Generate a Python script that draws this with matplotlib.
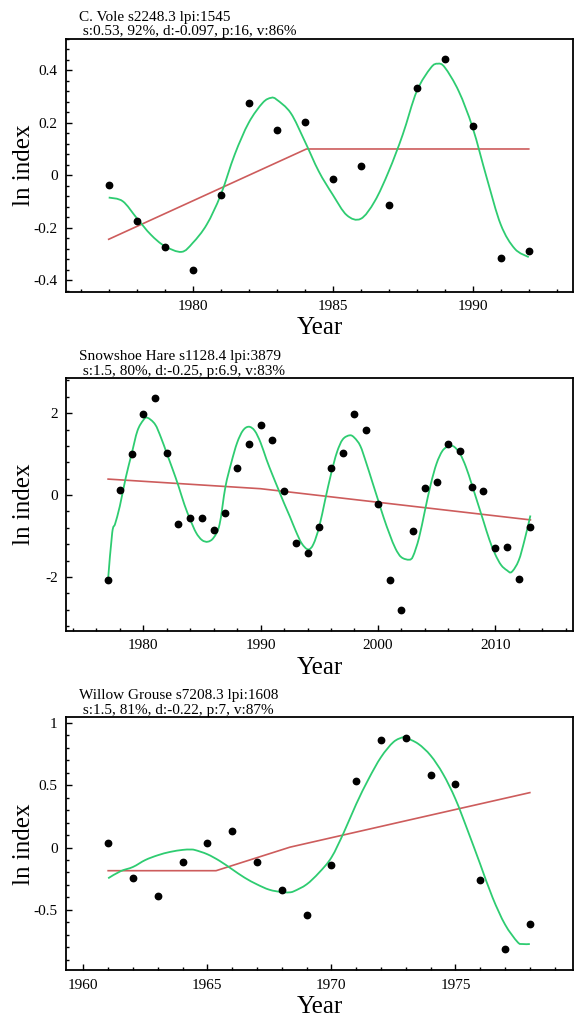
import numpy as np
import matplotlib.pyplot as plt
from matplotlib.ticker import MultipleLocator, FuncFormatter
from matplotlib.path import Path
from matplotlib.patches import PathPatch

plt.rcParams['font.family'] = ['Liberation Serif', 'DejaVu Serif']
plt.rcParams['axes.unicode_minus'] = False

VERDE = '#2ecc71'
ROJO = '#cd5c5c'

# ---- C. Vole ----
vole_years = list(range(1977, 1993))
vole_obs = [-0.037, -0.174, -0.274, -0.362, -0.075, 0.276, 0.174, 0.204,
            -0.013, 0.036, -0.113, 0.333, 0.442, 0.187, -0.317, -0.288]
vole_trend_x = [1977, 1984.06, 1992]
vole_trend_y = [-0.244, 0.100, 0.100]
vole_fit_x = [1977, 1977.5, 1978, 1978.5, 1979, 1979.6, 1980, 1980.5, 1981, 1981.5,
              1982, 1982.5, 1982.8, 1983, 1983.5, 1984, 1984.5, 1985, 1985.5,
              1986, 1986.5, 1987, 1987.5, 1988, 1988.5, 1988.75, 1989, 1989.5, 1990,
              1990.5, 1991, 1991.5, 1992]
vole_fit_y = [-0.085, -0.099, -0.163, -0.226, -0.270, -0.292, -0.258, -0.188, -0.075, 0.079,
              0.200, 0.276, 0.295, 0.288, 0.237, 0.130, 0.015, -0.074, -0.152,
              -0.166, -0.099, 0.015, 0.155, 0.320, 0.409, 0.425, 0.411, 0.320, 0.180,
              -0.010, -0.188, -0.280, -0.312]

# ---- Snowshoe Hare ----
hare_years = list(range(1977, 2014))
hare_obs = [-2.07, 0.13, 1.00, 1.98, 2.37, 1.02, -0.70, -0.56, -0.56, -0.86,
            -0.44, 0.67, 1.25, 1.72, 1.34, 0.11, -1.18, -1.42, -0.77, 0.65,
            1.04, 1.98, 1.58, -0.23, -2.07, -2.80, -0.87, 0.18, 0.33, 1.24,
            1.07, 0.19, 0.10, -1.29, -1.28, -2.04, -0.79]
hare_trend_x = [1977, 1990, 2013]
hare_trend_y = [0.39, 0.155, -0.607]
hare_fit_x = [1977, 1977.35, 1977.6, 1978, 1978.5, 1979, 1979.5, 1980, 1980.35, 1981,
              1981.5, 1982, 1982.5, 1983, 1983.5, 1984, 1984.5, 1985, 1985.5, 1986,
              1986.5, 1987, 1987.5, 1988, 1988.5, 1989, 1989.5, 1990, 1990.5, 1991,
              1991.5, 1992, 1992.5, 1993, 1993.5, 1994.05, 1994.5, 1995, 1995.5, 1996,
              1996.5, 1997, 1997.6, 1998, 1998.5, 1999, 1999.5, 2000, 2000.5, 2001,
              2001.5, 2002, 2002.67, 2003, 2003.5, 2004, 2004.5, 2005, 2005.5, 2006,
              2006.1, 2006.5, 2007, 2007.5, 2008, 2008.5, 2009, 2009.5, 2010, 2010.5,
              2011, 2011.4, 2012, 2012.5, 2013]
hare_fit_y = [-2.05, -0.92, -0.70, -0.27, 0.42, 1.00, 1.57, 1.83, 1.89, 1.73,
              1.41, 1.02, 0.63, 0.22, -0.23, -0.60, -0.92, -1.10, -1.14, -1.04,
              -0.72, 0.20, 0.79, 1.28, 1.58, 1.67, 1.57, 1.28, 0.87, 0.50,
              0.15, -0.20, -0.53, -0.88, -1.18, -1.33, -1.20, -0.77, -0.12, 0.51,
              1.04, 1.36, 1.46, 1.40, 1.20, 0.79, 0.34, -0.11, -0.56, -0.96,
              -1.31, -1.52, -1.58, -1.49, -1.05, -0.39, 0.26, 0.77, 1.08, 1.20,
              1.21, 1.18, 1.01, 0.69, 0.26, -0.19, -0.64, -1.09, -1.45, -1.71,
              -1.84, -1.88, -1.60, -1.10, -0.50]

# ---- Willow Grouse ----
grouse_years = list(range(1961, 1979))
grouse_obs = [0.035, -0.242, -0.392, -0.116, 0.035, 0.134, -0.116, -0.339, -0.540,
              -0.140, 0.535, 0.860, 0.882, 0.586, 0.511, -0.263, -0.812, -0.616]
grouse_trend_x = [1961, 1965.35, 1968.33, 1973, 1978]
grouse_trend_y = [-0.186, -0.186, 0.003, 0.215, 0.441]
grouse_fit_x = [1961, 1961.5, 1962, 1962.5, 1963, 1963.5, 1964, 1964.3, 1964.5, 1965,
                1965.5, 1966, 1966.5, 1967, 1967.5, 1968, 1968.3, 1968.5, 1969, 1969.5,
                1970, 1970.5, 1971, 1971.5, 1972, 1972.5, 1972.9, 1973, 1973.5, 1974,
                1974.5, 1975, 1975.5, 1976, 1976.5, 1977, 1977.5, 1977.7, 1978]
grouse_fit_y = [-0.247, -0.190, -0.156, -0.100, -0.062, -0.035, -0.019, -0.016, -0.020, -0.054,
                -0.108, -0.175, -0.242, -0.296, -0.339, -0.358, -0.360, -0.350, -0.296, -0.202,
                -0.080, 0.121, 0.349, 0.551, 0.726, 0.847, 0.887, 0.882, 0.833, 0.739,
                0.591, 0.390, 0.134, -0.134, -0.403, -0.618, -0.758, -0.775, -0.775]

paneles = [
    dict(titulo="C. Vole s2248.3 lpi:1545\n s:0.53, 92%, d:-0.097, p:16, v:86%",
         x=vole_years, y=vole_obs, tx=vole_trend_x, ty=vole_trend_y,
         fx=vole_fit_x, fy=vole_fit_y,
         xlim=(1975.475, 1993.58), ylim=(-0.443, 0.521),
         xmaj=5, xmin=1, ymaj=0.2, ymin=0.04, bottom_px=291.5),
    dict(titulo="Snowshoe Hare s1128.4 lpi:3879\n s:1.5, 80%, d:-0.25, p:6.9, v:83%",
         x=hare_years, y=hare_obs, tx=hare_trend_x, ty=hare_trend_y,
         fx=hare_fit_x, fy=hare_fit_y,
         xlim=(1973.41, 2016.63), ylim=(-3.323, 2.861),
         xmaj=10, xmin=2, ymaj=2, ymin=0.4, bottom_px=631.0),
    dict(titulo="Willow Grouse s7208.3 lpi:1608\n s:1.5, 81%, d:-0.22, p:7, v:87%",
         x=grouse_years, y=grouse_obs, tx=grouse_trend_x, ty=grouse_trend_y,
         fx=grouse_fit_x, fy=grouse_fit_y,
         xlim=(1959.30, 1979.74), ylim=(-0.986, 1.046),
         xmaj=5, xmin=1, ymaj=0.5, ymin=0.1, bottom_px=970.3),
]


def curva_suave(ax, xs, ys, **kw):
    """Dibuja una curva suave (Bezier tipo Catmull-Rom) que pasa por los puntos leidos."""
    pts = np.column_stack([xs, ys]).astype(float)
    verts = [pts[0]]
    codes = [Path.MOVETO]
    n = len(pts)
    for i in range(n - 1):
        p0 = pts[i - 1] if i > 0 else pts[i]
        p1 = pts[i]
        p2 = pts[i + 1]
        p3 = pts[i + 2] if i + 2 < n else pts[i + 1]
        verts += [p1 + (p2 - p0) / 6, p2 - (p3 - p1) / 6, p2]
        codes += [Path.CURVE4] * 3
    ax.add_patch(PathPatch(Path(verts, codes), fill=False, **kw))


W, H = 576, 1017
fig = plt.figure(figsize=(W / 100, H / 100), dpi=100)

formato = FuncFormatter(lambda v, pos: ('%g' % round(v, 6)))

for p in paneles:
    ax = fig.add_axes([66 / W, 1 - p['bottom_px'] / H, 507 / W, 253 / H])
    ax.plot(p['tx'], p['ty'], color=ROJO, linewidth=1.2, zorder=2)
    curva_suave(ax, p['fx'], p['fy'], edgecolor=VERDE, linewidth=1.3, zorder=3)
    ax.plot(p['x'], p['y'], 'o', color='black', markersize=4.6, zorder=4)

    ax.set_xlim(*p['xlim'])
    ax.set_ylim(*p['ylim'])
    ax.xaxis.set_major_locator(MultipleLocator(p['xmaj']))
    ax.xaxis.set_minor_locator(MultipleLocator(p['xmin']))
    ax.yaxis.set_major_locator(MultipleLocator(p['ymaj']))
    ax.yaxis.set_minor_locator(MultipleLocator(p['ymin']))
    ax.yaxis.set_major_formatter(formato)
    ax.xaxis.set_major_formatter(formato)

    ax.tick_params(which='both', direction='in', top=False, right=False,
                   labelsize=11, color='black', width=1.0)
    ax.tick_params(which='major', length=4.5, pad=6)
    ax.tick_params(which='minor', length=2.5)
    for lado in ['left', 'bottom', 'top', 'right']:
        ax.spines[lado].set_linewidth(1.3)

    ax.set_xlabel('Year', fontsize=18, labelpad=3)
    ax.set_ylabel('ln index', fontsize=18)
    ax.yaxis.set_label_coords(-0.062, 0.5)
    ax.text(0.0256, 1.0, p['titulo'], transform=ax.transAxes,
            ha='left', va='bottom', fontsize=11, linespacing=1.2)

fig.savefig('out.png', dpi=100)
